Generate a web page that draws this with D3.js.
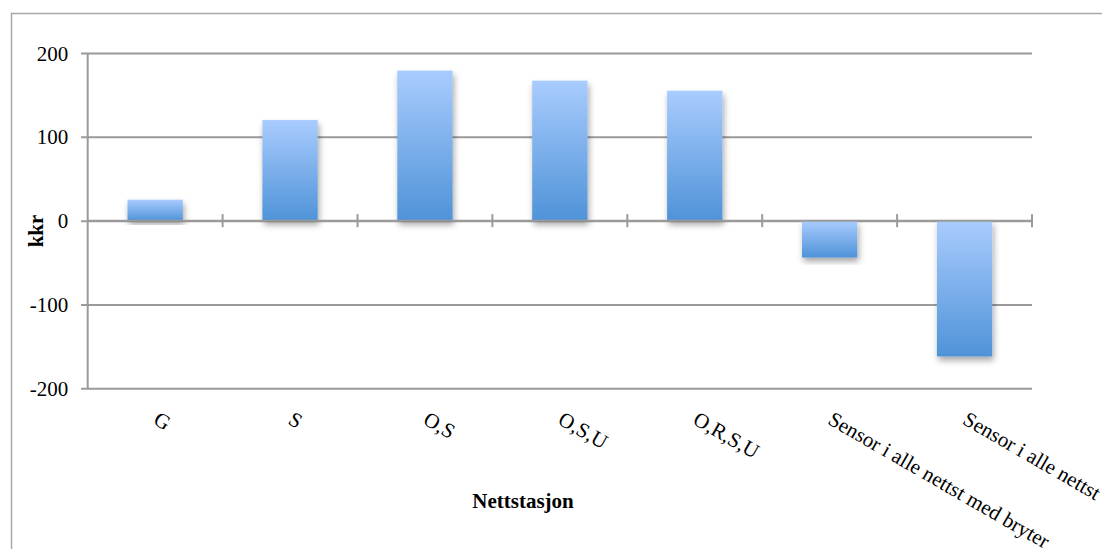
<!DOCTYPE html>
<html>
<head>
<meta charset="utf-8">
<script src="https://cdn.jsdelivr.net/npm/d3@7"></script>
<style>
  html, body { margin: 0; padding: 0; background: #fff; }
  svg { display: block; }
  text { font-family: "Liberation Serif", "Times New Roman", serif; fill: #000; }
</style>
</head>
<body>
<div id="chart"></div>
<script>
// Net value per substation configuration (kkr)
const categories = ["G", "S", "O,S", "O,S,U", "O,R,S,U", "Sensor i alle nettst med bryter", "Sensor i alle nettst"];
const values = [25, 120, 179, 167, 155, -44, -162];
const yTicks = [-200, -100, 0, 100, 200];
const yTitle = "kkr";
const xTitle = "Nettstasjon";

const W = 1102, H = 549;
const plot = { left: 87.7, right: 1032, top: 53, bottom: 388.3 };
const gridColor = "#9a9a9a";
const serif = "'Liberation Serif', 'Times New Roman', serif";

const svg = d3.select("#chart").append("svg")
  .attr("width", W).attr("height", H);

const defs = svg.append("defs");
const grad = defs.append("linearGradient")
  .attr("id", "barFill").attr("x1", 0).attr("y1", 0).attr("x2", 0).attr("y2", 1);
grad.append("stop").attr("offset", "0%").attr("stop-color", "#a9ccfe");
grad.append("stop").attr("offset", "100%").attr("stop-color", "#4f93d8");

const shadow = defs.append("filter").attr("id", "barShadow")
  .attr("x", "-20%").attr("y", "-20%").attr("width", "140%").attr("height", "140%");
shadow.append("feDropShadow")
  .attr("dx", 1.5).attr("dy", 4).attr("stdDeviation", 3)
  .attr("flood-color", "#000").attr("flood-opacity", 0.35);

// Outer chart frame
svg.append("rect")
  .attr("x", 11.5).attr("y", 13.5)
  .attr("width", W + 20).attr("height", H + 20)
  .attr("fill", "none").attr("stroke", "#a8a8a8").attr("stroke-width", 1.5);

const x = d3.scaleBand().domain(categories).range([plot.left, plot.right]).paddingInner(0).paddingOuter(0);
const y = d3.scaleLinear().domain([-200, 200]).range([plot.bottom, plot.top]);

// Horizontal gridlines with outward tick stubs and labels
const yAxis = d3.axisLeft(y).tickValues(yTicks)
  .tickSize(plot.right - plot.left + 6.7).tickFormat(d => String(d));
const gy = svg.append("g")
  .attr("transform", `translate(${plot.right},0)`)
  .call(yAxis)
  .attr("font-family", serif)
  .attr("font-size", 21);
gy.select(".domain").remove();
gy.selectAll(".tick line").attr("stroke", gridColor).attr("stroke-width", 2);
gy.selectAll(".tick text")
  .attr("x", -(plot.right - plot.left) - 19.5)
  .attr("dy", "0.34em")
  .attr("fill", "#000");

// Vertical axis line
svg.append("line")
  .attr("x1", plot.left).attr("x2", plot.left)
  .attr("y1", plot.top).attr("y2", plot.bottom)
  .attr("stroke", gridColor).attr("stroke-width", 2);

// Bars
const barW = x.bandwidth() * 0.41;
svg.append("g").selectAll("rect")
  .data(values)
  .join("rect")
  .attr("x", (d, i) => x(categories[i]) + (x.bandwidth() - barW) / 2)
  .attr("y", d => y(Math.max(0, d)))
  .attr("width", barW)
  .attr("height", d => Math.abs(y(d) - y(0)))
  .attr("fill", "url(#barFill)")
  .attr("filter", "url(#barShadow)");

// Zero line with category tick marks
const y0 = y(0);
svg.append("line")
  .attr("x1", plot.left).attr("x2", plot.right)
  .attr("y1", y0).attr("y2", y0)
  .attr("stroke", gridColor).attr("stroke-width", 2);
svg.append("g").selectAll("line")
  .data(categories)
  .join("line")
  .attr("x1", d => x(d) + x.bandwidth()).attr("x2", d => x(d) + x.bandwidth())
  .attr("y1", y0 - 6.5).attr("y2", y0 + 6.5)
  .attr("stroke", gridColor).attr("stroke-width", 2);

// Rotated category labels
svg.append("g").selectAll("text")
  .data(categories)
  .join("text")
  .attr("transform", d => `translate(${x(d) + x.bandwidth() / 2 - 3},${plot.bottom + 35}) rotate(30)`)
  .attr("text-anchor", "start")
  .style("font-size", "21px")
  .text(d => d);

// Axis titles
svg.append("text")
  .attr("transform", `translate(43,231) rotate(-90)`)
  .attr("text-anchor", "middle")
  .style("font-size", "21px").style("font-weight", "bold")
  .text(yTitle);

svg.append("text")
  .attr("x", 523).attr("y", 507.5)
  .attr("text-anchor", "middle")
  .style("font-size", "21px").style("font-weight", "bold")
  .text(xTitle);
</script>
</body>
</html>
